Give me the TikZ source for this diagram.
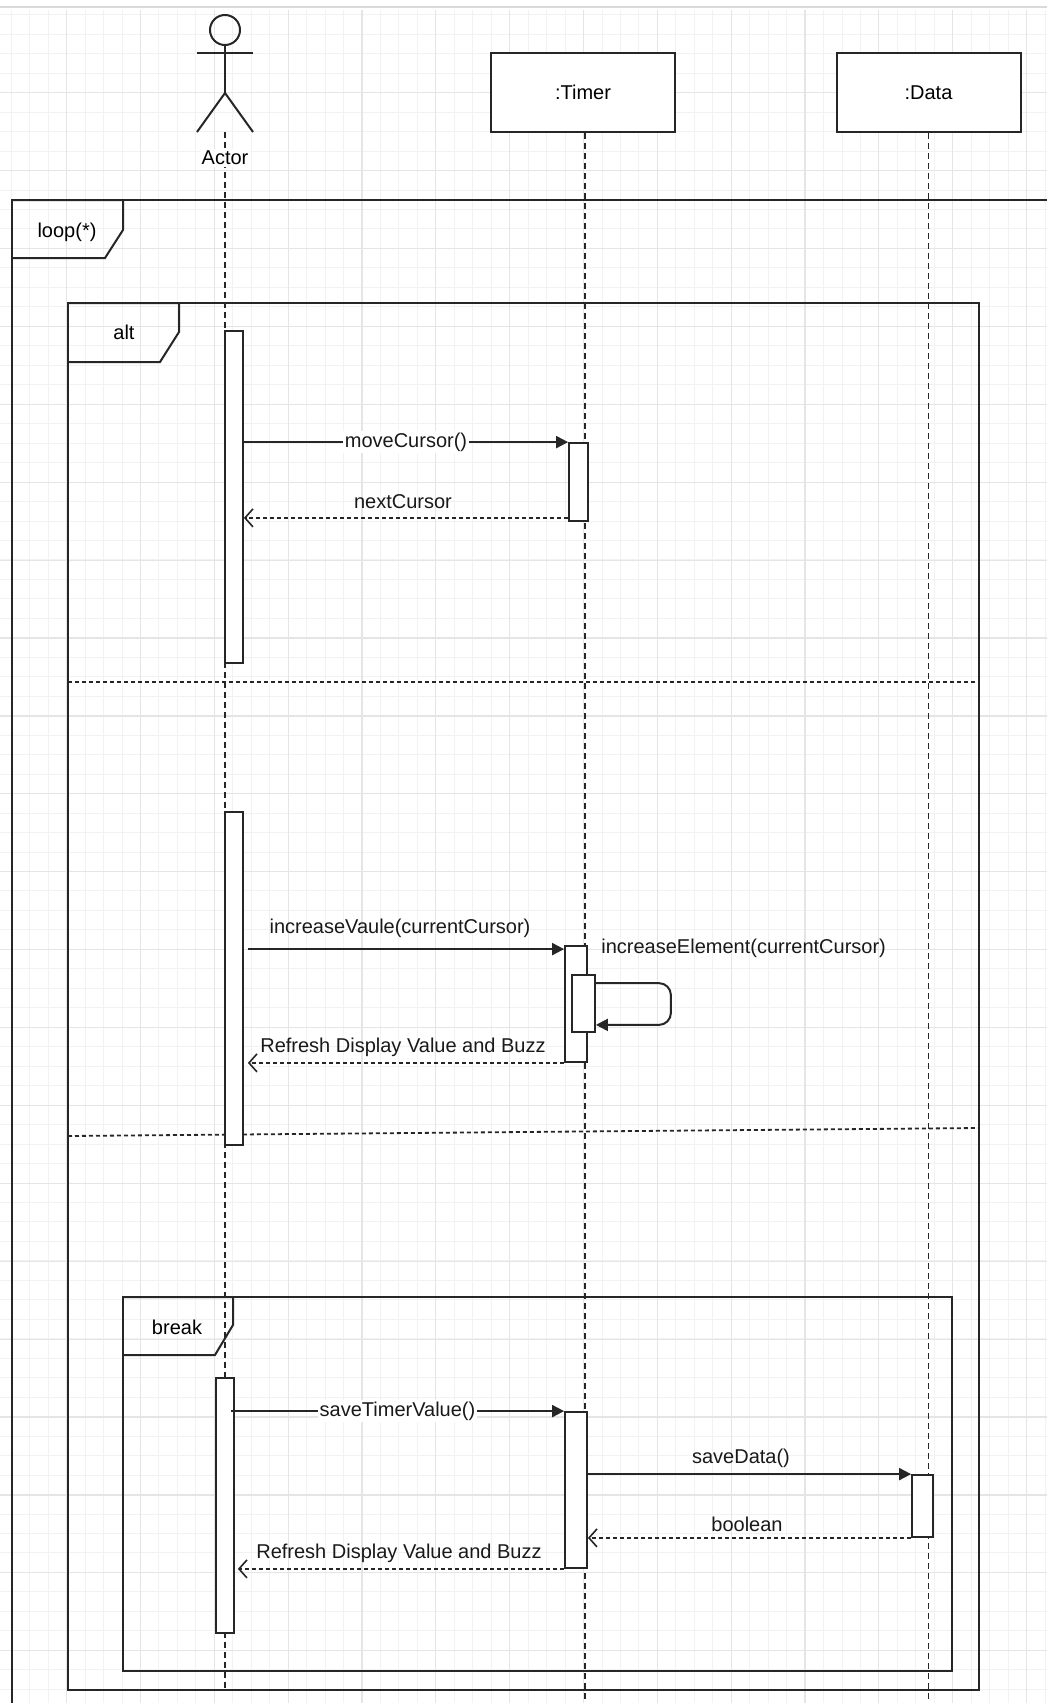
\documentclass[tikz,border=0pt]{standalone}
\usepackage{fontspec}
\setmainfont{Liberation Sans}
\usetikzlibrary{arrows.meta}

\begin{document}
\begin{tikzpicture}[
    x=0.5pt, y=-0.5pt,
    font=\fontsize{10}{12}\selectfont,
    gridminor/.style={line width=0.5pt, black!5},
    gridmajor/.style={line width=0.6pt, black!10},
    lifeline/.style={
        line width=0.75pt,
        black!85,
        dash pattern=on 3pt off 2pt
    },
    objbox/.style={
        rectangle,
        draw=black!85,
        line width=1pt,
        fill=white,
        minimum width=92pt,
        minimum height=39.5pt
    },
    actbar/.style={
        rectangle,
        draw=black!85,
        line width=0.9pt,
        fill=white,
        inner sep=0pt,
        minimum width=9pt
    },
    msg/.style={
        -{Triangle[length=6pt,width=6pt]},
        line width=1pt,
        black!85
    },
    reply/.style={
        -{Straight Barb[length=4pt,width=9pt,line width=0.8pt]},
        line width=0.9pt,
        black!85,
        dash pattern=on 2pt off 1.5pt
    },
    fragment/.style={
        line width=1pt,
        black!85
    },
    separator/.style={
        line width=0.9pt,
        black!85,
        dash pattern=on 2pt off 1.5pt
    },
    msglabel/.style={
        inner sep=1pt,
        text=black!90
    }
]

\useasboundingbox (0,0) rectangle (1047,1703);
\clip (0,0) rectangle (1047,1703);

% background grid
\fill[white] (0,0) rectangle (1047,1703);
\foreach \i in {0,...,56}
    \draw[gridminor] ({11.3+\i*18.46},10) -- ({11.3+\i*18.46},1703);
\foreach \j in {0,...,87}
    \draw[gridminor] (0,{14.8+\j*19.47}) -- (1047,{14.8+\j*19.47});
\foreach \i in {0,...,13}
    \draw[gridmajor] ({66.7+\i*73.83},10) -- ({66.7+\i*73.83},1703);
\foreach \j in {0,...,21}
    \draw[gridmajor] (0,{92.7+\j*77.9}) -- (1047,{92.7+\j*77.9});
\draw[line width=1pt, black!15] (0,7) -- (1047,7);

% actor
\coordinate (hip) at (225,93);
\draw[line width=1pt, black!85] (225,30) ellipse [x radius=15, y radius=15];
\draw[line width=1pt, black!85] (197,53) -- (253,53);
\draw[line width=1pt, black!85] (225,45) -- (hip);
\draw[line width=1pt, black!85] (197,132) -- (hip) -- (253,132);

\node[objbox] (timer) at (583,92.5) {:Timer};
\node[objbox] (data) at (928.5,92.5) {:Data};

% lifelines
\coordinate (actorend) at (225,1690);
\draw[lifeline] (225,132) -- (actorend);
\draw[lifeline] (timer.south -| 585,0) -- (585,1703);
\draw[lifeline] (data.south) -- (data.south |- 0,1703);
\node[fill=white, inner sep=1pt] (actorlbl) at (225,158) {Actor};

% loop frame
\draw[fragment] (12,1760) -- (12,200) -- (1100,200);
\draw[fragment] (12,200) -- (123,200) -- (123,230) -- (105,258) -- (12,258);
\node (looplbl) at (67,232) {loop(*)};

% alt frame
\draw[fragment] (68,303) rectangle (979,1690);
\draw[fragment] (68,303) -- (179,303) -- (179,332) -- (160,362) -- (68,362);
\node (altlbl) at (124,332) {alt};
\draw[separator] (68,682) -- (979,682);
\draw[separator] (68,1136) -- (979,1128);

% break frame
\draw[fragment] (123,1297) rectangle (952,1671);
\draw[fragment] (123,1297) -- (233,1297) -- (233,1325) -- (215,1355) -- (123,1355);
\node (breaklbl) at (177,1327) {break};

% activations
\node[actbar, minimum height=166pt] (a1) at (234,497) {};
\node[actbar, minimum width=9.5pt, minimum height=39pt] (t1) at (578.5,482) {};
\node[actbar, minimum height=166.5pt] (a2) at (234,978.5) {};
\node[actbar, minimum width=11pt, minimum height=58pt] (t2) at (576,1004) {};
\node[actbar, minimum width=11.5pt, minimum height=28.5pt] (t2b) at (583.5,1003.5) {};
\node[actbar, minimum height=127.5pt] (a3) at (225,1505.5) {};
\node[actbar, minimum width=11pt, minimum height=78pt] (t3) at (576,1490) {};
\node[actbar, minimum width=10.5pt, minimum height=31pt] (d1) at (922.5,1506) {};

% first case
\draw[msg] (a1.east |- t1.north) -- node[msglabel, fill=white] {moveCursor()} (t1.north west);
\draw[reply] ([yshift=2pt]t1.south west) -- ([yshift=2pt]a1.east |- t1.south);
\node[msglabel] (nextlbl) at (403,502) {nextCursor};

% second case
\draw[msg] ([xshift=2pt,yshift=-2pt]a2.east |- t2.north) -- ([yshift=-2pt]t2.north west);
\node[msglabel] (incvlbl) at (400,928) {increaseVaule(currentCursor)};
\draw[msg, rounded corners=6pt] ([yshift=-4.5pt]t2b.north east) -- ++(75,0) |- ([yshift=4pt]t2b.south east);
\node[msglabel, anchor=west] (incelbl) at (599,948) {increaseElement(currentCursor)};
\draw[reply] (t2.south west) -- ([xshift=2pt]a2.east |- t2.south);
\node[msglabel] (refr1lbl) at (403,1047) {Refresh Display Value and Buzz};

% break case
\draw[msg] ([xshift=-2pt]a3.east |- t3.north) -- node[msglabel, fill=white] {saveTimerValue()} (t3.north west);
\draw[msg] (t3.east |- d1.north) -- (d1.north west);
\node[msglabel] (savelbl) at (741,1458) {saveData()};
\draw[reply] (d1.south west) -- (t3.east |- d1.south);
\node[msglabel] (boollbl) at (747,1524) {boolean};
\draw[reply] (t3.south west) -- ([xshift=1.5pt]a3.east |- t3.south);
\node[msglabel] (refr2lbl) at (399,1553) {Refresh Display Value and Buzz};

\end{tikzpicture}
\end{document}
